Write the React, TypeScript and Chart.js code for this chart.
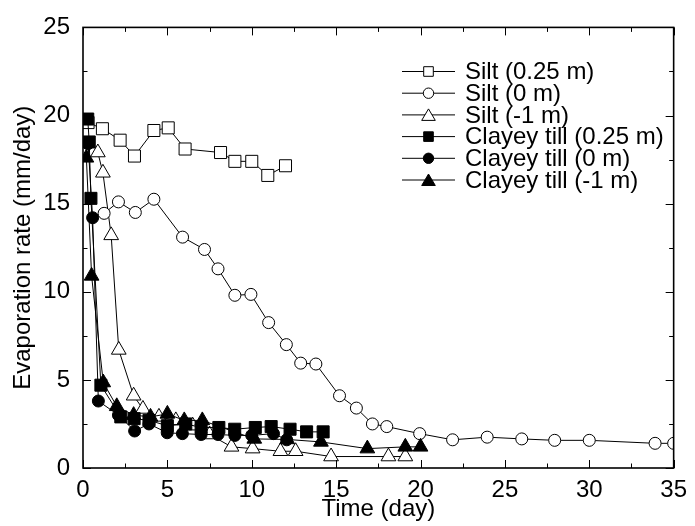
import React, { useEffect, useRef } from "react";
import { Chart, registerables } from "chart.js";
Chart.register(...registerables);

const FONT = "'Liberation Sans', Arial, Helvetica, sans-serif";

// Silt (0.25 m)
const siltA_x = [0.3, 1.15, 2.2, 3.05, 4.2, 5.05, 6.05, 8.15, 9.0, 10.0, 10.95, 12.0];
const siltA_y = [19.6, 19.25, 18.6, 17.7, 19.15, 19.3, 18.1, 17.9, 17.4, 17.4, 16.6, 17.15];
// Silt (0 m)
const siltB_x = [1.25, 2.1, 3.1, 4.2, 5.9, 7.2, 8.0, 9.0, 9.95, 11.0, 12.05, 12.9, 13.8, 15.2, 16.2, 17.15, 18.0, 19.95, 21.9, 23.95, 26.0, 27.95, 30.0, 33.9, 35.0];
const siltB_y = [14.45, 15.1, 14.5, 15.25, 13.1, 12.4, 11.3, 9.8, 9.85, 8.25, 7.0, 5.95, 5.9, 4.1, 3.4, 2.5, 2.35, 1.95, 1.6, 1.75, 1.65, 1.57, 1.57, 1.4, 1.4];
// Silt (-1 m)
const siltC_x = [0.88, 1.18, 1.67, 2.12, 3.0, 3.55, 4.5, 5.5, 6.5, 7.5, 8.8, 10.05, 11.7, 12.6, 14.7, 18.1, 19.1];
const siltC_y = [17.9, 16.75, 13.2, 6.7, 4.1, 3.35, 2.9, 2.7, 2.4, 1.9, 1.2, 1.1, 0.95, 0.95, 0.65, 0.65, 0.65];
// Clayey till (0.25 m)
const clayA_x = [0.28, 0.37, 0.47, 1.06, 2.24, 3.03, 3.91, 5.0, 6.09, 7.0, 8.05, 8.99, 10.21, 11.15, 12.27, 13.25, 14.23];
const clayA_y = [19.8, 18.5, 15.3, 4.7, 2.9, 2.8, 2.7, 2.4, 2.5, 2.3, 2.3, 2.2, 2.3, 2.35, 2.2, 2.05, 2.05];
// Clayey till (0 m)
const clayB_x = [0.3, 0.57, 0.91, 2.1, 3.06, 3.91, 4.99, 5.89, 7.0, 8.0, 9.0, 10.0, 11.29, 12.07];
const clayB_y = [18.4, 14.2, 3.8, 3.0, 2.1, 2.5, 2.0, 1.95, 1.9, 1.9, 1.85, 1.85, 1.95, 1.6];
// Clayey till (-1 m)
const clayC_x = [0.2, 0.51, 1.2, 2.0, 3.0, 4.0, 5.0, 6.0, 7.07, 10.15, 12.1, 14.1, 16.85, 19.1, 20.0];
const clayC_y = [17.6, 10.9, 4.85, 3.5, 3.0, 2.9, 3.07, 2.7, 2.7, 1.65, 1.62, 1.48, 1.1, 1.2, 1.2];

const seriesLabels = [
  "Silt (0.25 m)",
  "Silt (0 m)",
  "Silt (-1 m)",
  "Clayey till (0.25 m)",
  "Clayey till (0 m)",
  "Clayey till (-1 m)",
];
const xTicks = [0, 5, 10, 15, 20, 25, 30, 35];
const yTicks = [0, 5, 10, 15, 20, 25];

const pts = (xs: number[], ys: number[]) => xs.map((x, i) => ({ x, y: ys[i] }));

const shapes = ["rect", "circle", "triangle", "rect", "circle", "triangle"];
const fills = ["#ffffff", "#ffffff", "#ffffff", "#000000", "#000000", "#000000"];
const radii = [8.5, 6, 8.5, 8.5, 6, 8.5];

function drawMarker(ctx: CanvasRenderingContext2D, shape: string, x: number, y: number, fill: string) {
  ctx.beginPath();
  if (shape === "rect") {
    const s = 4.8;
    ctx.rect(x - s, y - s, 2 * s, 2 * s);
  } else if (shape === "circle") {
    ctx.arc(x, y, 5.2, 0, Math.PI * 2);
  } else {
    const w = 6.8, h = 11;
    ctx.moveTo(x, y - h / 2 - 0.5);
    ctx.lineTo(x + w, y + h / 2);
    ctx.lineTo(x - w, y + h / 2);
    ctx.closePath();
  }
  ctx.fillStyle = fill;
  ctx.fill();
  ctx.strokeStyle = "#000";
  ctx.lineWidth = 1;
  ctx.stroke();
}

const framePlugin = {
  id: "frame",
  afterDraw(chart: any) {
    const { ctx, chartArea } = chart;
    const { left, right, top, bottom } = chartArea;
    const xs = chart.scales.x;
    const ys = chart.scales.y;
    ctx.save();
    ctx.strokeStyle = "#000";
    ctx.lineWidth = 1;
    const line = (a: number, b: number, c: number, d: number) => {
      ctx.beginPath();
      ctx.moveTo(a, b);
      ctx.lineTo(c, d);
      ctx.stroke();
    };
    for (let v = 0; v <= 35; v += 2.5) {
      const px = Math.round(xs.getPixelForValue(v)) + 0.5;
      const len = v % 5 === 0 ? 8 : 4.5;
      line(px, bottom, px, bottom - len);
      line(px, top, px, top + len);
    }
    for (let v = 0; v <= 25; v += 2.5) {
      const py = Math.round(ys.getPixelForValue(v)) + 0.5;
      const len = v % 5 === 0 ? 8 : 4.5;
      line(left, py, left + len, py);
      line(right, py, right - len, py);
    }
    ctx.lineWidth = 1.6;
    ctx.strokeRect(left, top, right - left, bottom - top);

    // legend
    const lx0 = 402, lx1 = 455, mx = 428.5, tx = 465, ty0 = 71.5, dy = 21.7;
    ctx.font = `24px ${FONT}`;
    ctx.textBaseline = "middle";
    ctx.textAlign = "left";
    seriesLabels.forEach((lab, i) => {
      const yy = ty0 + dy * i;
      ctx.lineWidth = 1;
      ctx.strokeStyle = "#000";
      line(lx0, yy, lx1, yy);
      drawMarker(ctx, shapes[i], mx, yy, fills[i]);
      ctx.fillStyle = "#000";
      ctx.fillText(lab, tx, yy + 1);
    });
    ctx.restore();
  },
};

export default function App() {
  const ref = useRef<HTMLCanvasElement>(null);
  useEffect(() => {
    const data = [
      pts(siltA_x, siltA_y),
      pts(siltB_x, siltB_y),
      pts(siltC_x, siltC_y),
      pts(clayA_x, clayA_y),
      pts(clayB_x, clayB_y),
      pts(clayC_x, clayC_y),
    ];
    const chart = new Chart(ref.current!, {
      type: "scatter",
      data: {
        datasets: data.map((d, i) => ({
          label: seriesLabels[i],
          data: d,
          showLine: true,
          borderColor: "#000",
          borderWidth: 1,
          pointStyle: shapes[i] as any,
          pointRadius: radii[i],
          pointBackgroundColor: fills[i],
          pointBorderColor: "#000",
          pointBorderWidth: 1,
          clip: 0,
          order: i < 3 ? 2 : 1,
        })),
      },
      options: {
        responsive: false,
        animation: false,
        layout: { padding: { top: 23, right: 17, left: 0, bottom: 0 } },
        plugins: { legend: { display: false }, tooltip: { enabled: false } },
        scales: {
          x: {
            type: "linear",
            min: 0,
            max: 35,
            grid: { display: false, drawTicks: false },
            border: { display: false },
            afterBuildTicks: (s: any) => {
              s.ticks = xTicks.map((v) => ({ value: v }));
            },
            ticks: { font: { family: FONT, size: 24 }, color: "#000", padding: 8, maxRotation: 0, autoSkip: false },
            title: {
              display: true,
              text: "Time (day)",
              color: "#000",
              font: { family: FONT, size: 24, lineHeight: 1 },
              padding: { top: 0, bottom: 5 },
            },
            afterFit: (s: any) => {
              s.height = 58;
            },
          },
          y: {
            type: "linear",
            min: 0,
            max: 25,
            grid: { display: false, drawTicks: false },
            border: { display: false },
            afterBuildTicks: (s: any) => {
              s.ticks = yTicks.map((v) => ({ value: v }));
            },
            ticks: { font: { family: FONT, size: 24 }, color: "#000", padding: 13, autoSkip: false },
            title: {
              display: true,
              text: "Evaporation rate (mm/day)",
              color: "#000",
              font: { family: FONT, size: 24, lineHeight: 1 },
              padding: { top: 11, bottom: 0 },
            },
            afterFit: (s: any) => {
              s.width = 83;
            },
          },
        },
      },
      plugins: [framePlugin],
    });
    return () => chart.destroy();
  }, []);
  return (
    <div style={{ position: "absolute", left: 0, top: 0, width: 695, height: 526, background: "#fff" }}>
      <canvas ref={ref} width={695} height={526} style={{ display: "block", width: 695, height: 526 }} />
    </div>
  );
}
